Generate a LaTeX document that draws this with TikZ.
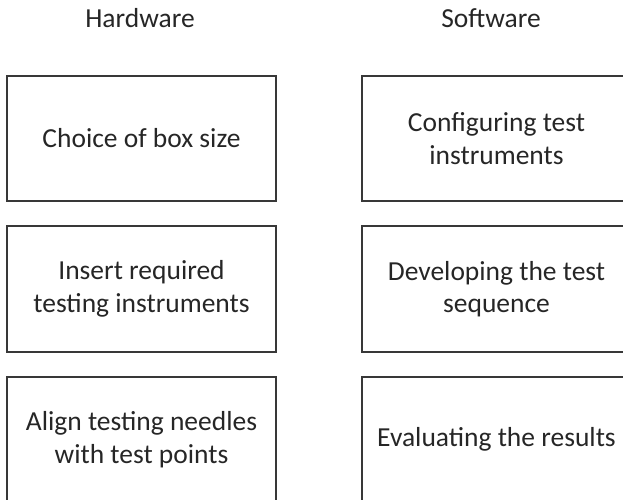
\documentclass[tikz,border=0pt]{standalone}
\usepackage{fontspec}
\setmainfont{Carlito}
\begin{document}
\begin{tikzpicture}[x=1pt,y=-1pt,
  stepbox/.style={draw=black!78,line width=1.6pt,minimum width=269pt,minimum height=125.5pt,inner sep=0pt,
    align=center,text=black!85,font=\fontsize{27.5}{32.5}\selectfont},
  head/.style={anchor=base,text=black!85,font=\fontsize{27.5}{32.5}\selectfont,inner sep=0pt}]
\useasboundingbox (0,0) rectangle (623,499);
\clip (0,0) rectangle (623,499);
\node[head] (hw) at (140,27) {Hardware};
\node[head] (sw) at (491,27) {Software};
\node[stepbox] (h1) at (141.5,138.5) {Choice of box size};
\node[stepbox] (h2) at (141.5,289) {Insert required\\testing instruments};
\node[stepbox] (h3) at (141.5,439.5) {Align testing needles\\with test points};
\node[stepbox] (s1) at (496.5,138.5) {Configuring test\\instruments};
\node[stepbox] (s2) at (496.5,289) {Developing the test\\sequence};
\node[stepbox] (s3) at (496.5,439.5) {Evaluating the results};
\end{tikzpicture}
\end{document}
